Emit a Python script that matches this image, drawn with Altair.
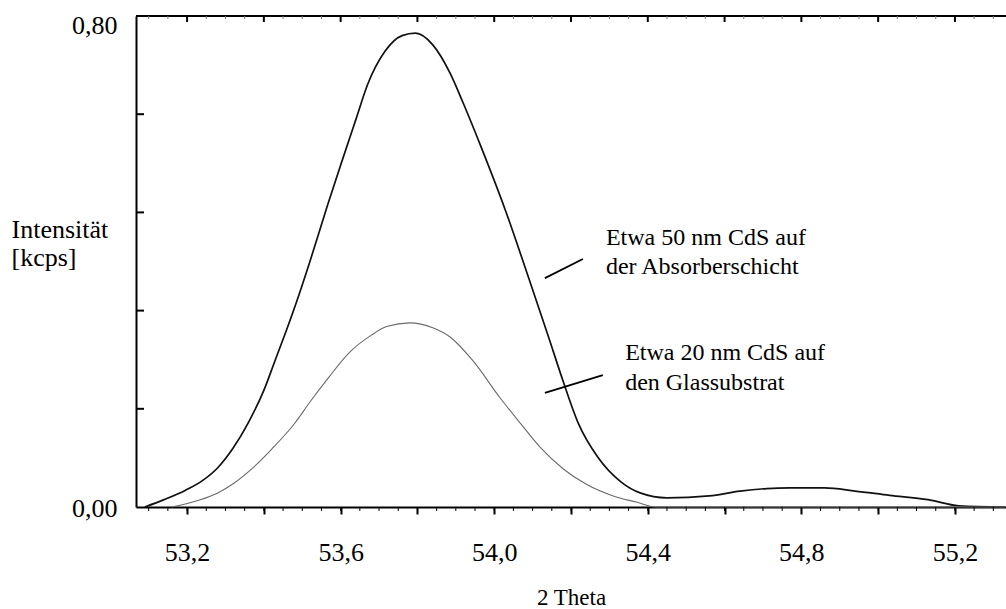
import altair as alt
import pandas as pd

# --- data ---
theta_50 = [53.09, 53.14, 53.195, 53.24, 53.28, 53.32, 53.36, 53.40, 53.43, 53.46, 53.49,
            53.52, 53.565, 53.60, 53.64, 53.67, 53.715, 53.76, 53.795, 53.84, 53.885,
            53.92, 53.965, 54.03, 54.085, 54.14, 54.18, 54.22, 54.27, 54.33, 54.38,
            54.45, 54.56, 54.64, 54.71, 54.77, 54.86, 54.94, 55.03, 55.13, 55.21, 55.33]
int_50 = [0.0, 0.012, 0.027, 0.043, 0.064, 0.096, 0.138, 0.19, 0.24, 0.29, 0.343,
          0.40, 0.49, 0.557, 0.632, 0.688, 0.742, 0.768, 0.772, 0.753, 0.707,
          0.657, 0.588, 0.482, 0.382, 0.28, 0.204, 0.135, 0.081, 0.041, 0.023,
          0.015, 0.018, 0.026, 0.030, 0.031, 0.031, 0.026, 0.019, 0.012, 0.002, 0.0]

theta_20 = [53.16, 53.23, 53.28, 53.32, 53.37, 53.42, 53.48, 53.52, 53.57, 53.62, 53.68,
            53.72, 53.78, 53.84, 53.885, 53.945, 54.015, 54.07, 54.12, 54.18, 54.24,
            54.31, 54.37, 54.42, 55.33]
int_20 = [0.0, 0.011, 0.023, 0.038, 0.063, 0.094, 0.136, 0.171, 0.212, 0.25, 0.28,
          0.294, 0.30, 0.292, 0.277, 0.238, 0.178, 0.135, 0.097, 0.062, 0.037,
          0.018, 0.008, 0.0, 0.0]

x_major = [53.2, 53.4, 53.6, 53.8, 54.0, 54.2, 54.4, 54.6, 54.8, 55.0, 55.2]
x_minor = [round(53.10 + 0.05 * i, 2) for i in range(45)]
y_labels = [0.0, 0.8]
y_inner_ticks = [0.16, 0.32, 0.48, 0.64]

ann_text = ["Etwa 50 nm CdS auf", "der Absorberschicht", "Etwa 20 nm CdS auf", "den Glassubstrat"]
ann_x = [54.291, 54.291, 54.341, 54.341]
ann_y = [0.438, 0.391, 0.251, 0.202]

lead_x = [54.132, 54.132]
lead_y = [0.373, 0.186]
lead_x2 = [54.231, 54.283]
lead_y2 = [0.404, 0.215]

X_DOMAIN = [53.067, 55.333]
Y_DOMAIN = [0.0, 0.8]
W, H = 870, 491
FONT = "Liberation Serif"

df50 = pd.DataFrame({"theta": theta_50, "i": int_50})
df20 = pd.DataFrame({"theta": theta_20, "i": int_20})

xscale = alt.Scale(domain=X_DOMAIN, nice=False, zero=False)
yscale = alt.Scale(domain=Y_DOMAIN, nice=False, zero=True)

xaxis = alt.Axis(
    values=x_major,
    grid=False,
    domainColor="black", domainWidth=2,
    tickColor="black", tickSize=7, tickWidth=2,
    labelExpr="abs(datum.value/0.4 - round(datum.value/0.4)) < 0.01 ? replace(format(datum.value, '.1f'), '.', ',') : ''",
    labelFont=FONT, labelFontSize=26, labelColor="black", labelPadding=25,
    labelFlush=False, labelOverlap=False,
    title="2 Theta", titleFont=FONT, titleFontSize=23, titleFontWeight="normal",
    titleColor="black", titleX=435, titleY=97, titleAlign="center",
    titleBaseline="alphabetic",
)
yaxis = alt.Axis(
    values=y_labels,
    grid=False,
    domainColor="black", domainWidth=2,
    ticks=True, tickSize=0,
    labelExpr="replace(format(datum.value, '.2f'), '.', ',')",
    labelFont=FONT, labelFontSize=26, labelColor="black", labelPadding=19,
    labelOffset={"condition": {"test": "datum.value > 0.5", "value": 9}, "value": 1},
    title=["Intensität", "[kcps]"], titleFont=FONT, titleFontSize=26,
    titleFontWeight="normal", titleColor="black", titleAngle=0,
    titleAlign="left", titleBaseline="alphabetic", titleX=-125, titleY=221,
    titleLineHeight=28,
)

line50 = alt.Chart(df50).mark_line(color="#111111", strokeWidth=1.7, interpolate="monotone").encode(
    x=alt.X("theta:Q", scale=xscale, axis=xaxis),
    y=alt.Y("i:Q", scale=yscale, axis=yaxis),
)
line20 = alt.Chart(df20).mark_line(color="#6a6a6a", strokeWidth=1.1, interpolate="monotone").encode(
    x=alt.X("theta:Q", scale=xscale),
    y=alt.Y("i:Q", scale=yscale),
)

top_frame = alt.Chart(pd.DataFrame({"a": [0]})).mark_rule(color="black", strokeWidth=2).encode(
    x=alt.value(0), x2=alt.value(W), y=alt.value(0)
)
top_major = alt.Chart(pd.DataFrame({"t": x_major})).mark_rule(color="black", strokeWidth=2).encode(
    x=alt.X("t:Q", scale=xscale), y=alt.value(0), y2=alt.value(6)
)
top_minor = alt.Chart(pd.DataFrame({"t": x_minor})).mark_rule(color="#777777", strokeWidth=1).encode(
    x=alt.X("t:Q", scale=xscale), y=alt.value(0), y2=alt.value(3)
)
bottom_minor = alt.Chart(pd.DataFrame({"t": x_minor})).mark_rule(color="black", strokeWidth=1).encode(
    x=alt.X("t:Q", scale=xscale), y=alt.value(H), y2=alt.value(H + 4)
)
y_ticks = alt.Chart(pd.DataFrame({"v": y_inner_ticks})).mark_rule(color="black", strokeWidth=2).encode(
    y=alt.Y("v:Q", scale=yscale), x=alt.value(0), x2=alt.value(8)
)

ann = alt.Chart(pd.DataFrame({"t": ann_text, "x": ann_x, "y": ann_y})).mark_text(
    align="left", baseline="middle", font=FONT, fontSize=24, color="black"
).encode(
    x=alt.X("x:Q", scale=xscale), y=alt.Y("y:Q", scale=yscale), text="t:N"
)
leaders = alt.Chart(pd.DataFrame({"x": lead_x, "y": lead_y, "x2": lead_x2, "y2": lead_y2})).mark_rule(
    color="black", strokeWidth=1.8
).encode(
    x=alt.X("x:Q", scale=xscale), y=alt.Y("y:Q", scale=yscale), x2="x2:Q", y2="y2:Q"
)

chart = alt.layer(line50, line20, top_frame, top_minor, top_major, bottom_minor, y_ticks, leaders, ann).properties(
    width=W, height=H,
    autosize=alt.AutoSizeParams(type="none"),
    padding={"left": 136, "top": 16, "right": 0, "bottom": 102},
    background="white",
).configure_view(stroke=None)

chart.save("out.html", embed_options={"renderer": "svg", "actions": False})
